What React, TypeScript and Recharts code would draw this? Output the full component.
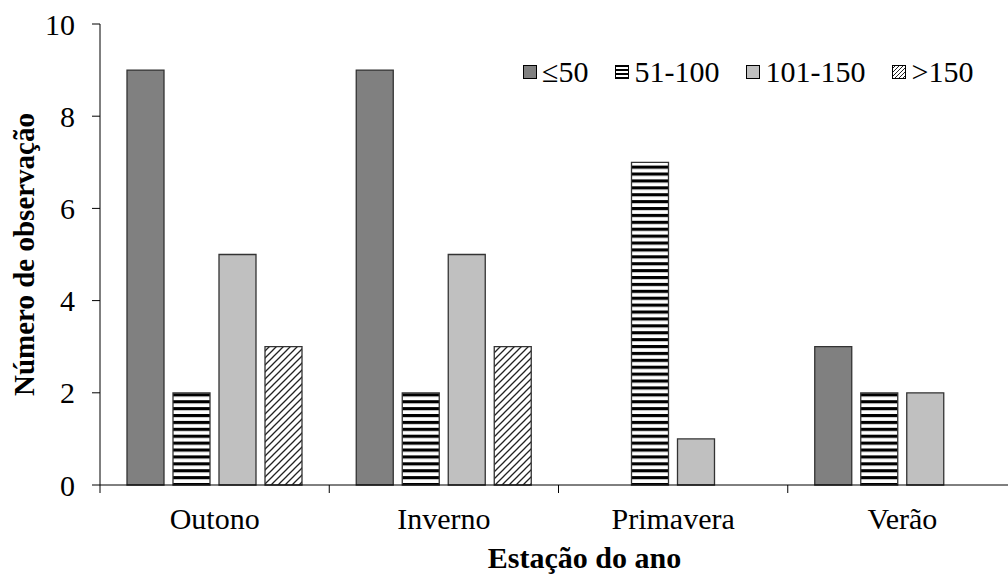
import React from 'react';
import { BarChart, Bar, XAxis, YAxis, Label } from 'recharts';

// Número de observações por estação e classe
const estacoes = ['Outono', 'Inverno', 'Primavera', 'Verão'];
const ate50 = [9, 9, 0, 3];
const de51a100 = [2, 2, 7, 2];
const de101a150 = [5, 5, 1, 2];
const acima150 = [3, 3, 0, 0];
const yTicks = [0, 2, 4, 6, 8, 10];

const series = [
  { key: 'ate50', nome: '≤50', fill: '#808080' },
  { key: 'de51a100', nome: '51-100', fill: 'url(#listras)' },
  { key: 'de101a150', nome: '101-150', fill: '#c0c0c0' },
  { key: 'acima150', nome: '>150', fill: 'url(#hachura)' },
];

const data = estacoes.map((estacao, i) => ({
  estacao,
  ate50: ate50[i],
  de51a100: de51a100[i],
  de101a150: de101a150[i],
  acima150: acima150[i],
}));

const FONT = '"Liberation Serif", "Times New Roman", serif';
const STROKE = '#333';

// rótulo da categoria + traço no limite esquerdo de cada faixa
const CategoryTick = (props: any) => {
  const { x, y, payload } = props;
  const half = payload && payload.offset ? payload.offset : 114.6;
  return (
    <g>
      <line x1={x - half} x2={x - half} y1={y} y2={y + 8} stroke="#000" strokeWidth={1} />
      <text x={x} y={y + 44} textAnchor="middle" fontFamily={FONT} fontSize={30} fill="#000">
        {payload.value}
      </text>
    </g>
  );
};

const Swatch = ({ fill }: { fill: string }) => (
  <svg width={14} height={14} style={{ display: 'block' }}>
    <defs>
      <pattern id="lg-listras" patternUnits="userSpaceOnUse" width={14} height={4}>
        <rect x={0} y={0} width={14} height={2} fill="#000" />
      </pattern>
      <pattern id="lg-hachura" patternUnits="userSpaceOnUse" width={4} height={4}>
        <path d="M0,4 L4,0 M-1,1 L1,-1 M3,5 L5,3" stroke="#222" strokeWidth={1} />
      </pattern>
    </defs>
    <rect
      x={0.5}
      y={0.5}
      width={13}
      height={13}
      fill={fill.replace('url(#', 'url(#lg-')}
      stroke="#000"
      strokeWidth={1}
    />
  </svg>
);

const Legenda = () => (
  <div
    style={{
      position: 'absolute',
      top: 57,
      left: 523,
      display: 'flex',
      alignItems: 'center',
      fontFamily: FONT,
      fontSize: 30,
      lineHeight: '30px',
      whiteSpace: 'nowrap',
    }}
  >
    {series.map((s, i) => (
      <div key={s.key} style={{ display: 'flex', alignItems: 'center', marginLeft: i === 0 ? 0 : 27 }}>
        <Swatch fill={s.fill} />
        <span style={{ marginLeft: 5 }}>{s.nome}</span>
      </div>
    ))}
  </div>
);

export default function App() {
  return (
    <div
      style={{
        position: 'fixed',
        left: 0,
        top: 0,
        width: 1008,
        height: 575,
        overflow: 'hidden',
        background: '#fff',
      }}
    >
      <BarChart
        width={1030}
        height={575}
        data={data}
        margin={{ top: 24, right: 13, left: 0, bottom: 0 }}
        barSize={37}
        barGap={9}
      >
        <defs>
          <pattern id="listras" patternUnits="userSpaceOnUse" width={10} height={6.9}>
            <rect x={0} y={0} width={10} height={3.4} fill="#000" />
            <rect x={0} y={3.4} width={10} height={3.5} fill="#fff" />
          </pattern>
          <pattern id="hachura" patternUnits="userSpaceOnUse" width={7} height={7}>
            <rect x={0} y={0} width={7} height={7} fill="#fff" />
            <path d="M0,7 L7,0 M-1,1 L1,-1 M6,8 L8,6" stroke="#222" strokeWidth={1.3} />
          </pattern>
        </defs>
        <XAxis
          dataKey="estacao"
          height={90}
          axisLine={{ stroke: '#000' }}
          tickLine={false}
          tickSize={0}
          tickMargin={0}
          interval={0}
          tick={<CategoryTick />}
        >
          <Label
            content={(p: any) => {
              const vb = p.viewBox || { x: 100, y: 485, width: 917 };
              return (
                <text
                  x={vb.x + vb.width / 2 + 26}
                  y={vb.y + 83}
                  textAnchor="middle"
                  fontFamily={FONT}
                  fontSize={30}
                  fontWeight="bold"
                  fill="#000"
                >
                  Estação do ano
                </text>
              );
            }}
          />
        </XAxis>
        <YAxis
          width={100}
          domain={[0, 10]}
          ticks={yTicks}
          interval={0}
          axisLine={{ stroke: '#000' }}
          tickLine={{ stroke: '#000' }}
          tickSize={8}
          tickMargin={17}
          tick={{ fontFamily: FONT, fontSize: 30, fill: '#000' }}
        >
          <Label
            content={(p: any) => {
              const vb = p.viewBox || { x: 0, y: 24, height: 461 };
              const cx = vb.x + 24;
              const cy = vb.y + vb.height / 2;
              return (
                <text
                  x={cx}
                  y={cy}
                  transform={`rotate(-90, ${cx}, ${cy})`}
                  textAnchor="middle"
                  dominantBaseline="central"
                  fontFamily={FONT}
                  fontSize={29}
                  fontWeight="bold"
                  fill="#000"
                >
                  Número de observação
                </text>
              );
            }}
          />
        </YAxis>
        {series.map((s) => (
          <Bar
            key={s.key}
            dataKey={s.key}
            name={s.nome}
            fill={s.fill}
            stroke={STROKE}
            strokeWidth={1.3}
            isAnimationActive={false}
          />
        ))}
      </BarChart>
      <Legenda />
    </div>
  );
}
